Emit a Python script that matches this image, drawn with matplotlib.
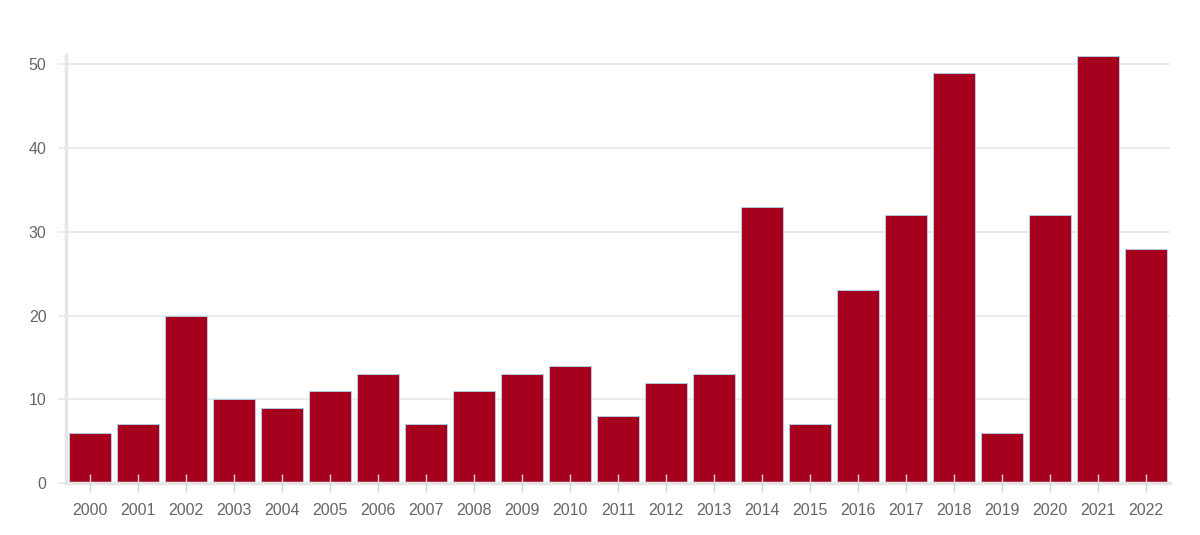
import matplotlib.pyplot as plt

plt.rcParams['font.family'] = ['Liberation Sans', 'DejaVu Sans']

years = [str(y) for y in range(2000, 2023)]
counts = [6, 7, 20, 10, 9, 11, 13, 7, 11, 13, 14, 8, 12, 13, 33, 7, 23, 32, 49, 6, 32, 51, 28]
y_ticks = [0, 10, 20, 30, 40, 50]

fig = plt.figure(figsize=(12, 5.35), dpi=100)
ax = fig.add_axes([0.055, 0.097, 0.92, 0.8])

# gridlines behind the bars, ticks on top of them
for v in y_ticks:
    ax.axhline(v, color='#e6e6e6', linewidth=1.2, zorder=0)

x = range(len(years))
ax.bar(x, counts, width=0.875, color='#a5001e', edgecolor='#b5cce4', linewidth=0.7, zorder=2)

ax.set_xlim(-0.5, len(years) - 0.5)
ax.set_ylim(0, 51.1)
ax.set_xticks(list(x))
ax.set_xticklabels(years)
ax.set_yticks(y_ticks)

for s in ['top', 'right']:
    ax.spines[s].set_visible(False)
for s in ['left', 'bottom']:
    ax.spines[s].set_color('#e6e6e6')
    ax.spines[s].set_linewidth(2.5)

ax.tick_params(axis='x', direction='inout', length=13, width=1, color='#ccd6eb',
               labelsize=11.5, labelcolor='#666666', pad=8)
ax.tick_params(axis='y', direction='out', length=6, width=1.2, color='#e6e6e6',
               labelsize=11.5, labelcolor='#666666', pad=8)
ax.set_axisbelow(False)

fig.savefig('out.png', dpi=100)
